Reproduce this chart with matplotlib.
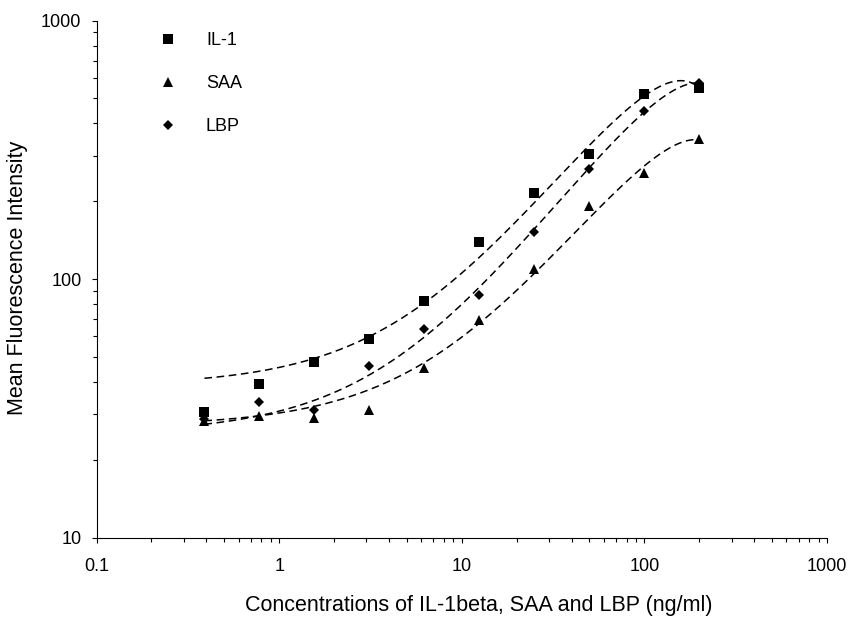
import numpy as np
import matplotlib.pyplot as plt
from matplotlib.lines import Line2D
from matplotlib.transforms import Bbox

plt.rcParams['font.family'] = ['Liberation Sans', 'DejaVu Sans']

# 浓度 (ng/ml)
conc = [0.39, 0.78, 1.56, 3.125, 6.25, 12.5, 25, 50, 100, 200]

# 平均荧光强度
il1 = [30.7, 39.3, 47.9, 58.6, 82.4, 139, 215, 304, 518, 547]
saa = [28.2, 29.4, 29.1, 31.1, 45.1, 69.4, 109, 192, 258, 348]
lbp = [28.8, 33.3, 31.1, 46.1, 63.9, 86.7, 152, 266, 448, 573]

x_ticks = [0.1, 1, 10, 100, 1000]
x_labels = ['0.1', '1', '10', '100', '1000']
y_ticks = [10, 100, 1000]
y_labels = ['10', '100', '1000']

fig = plt.figure(figsize=(8.51, 6.23), dpi=100)
ax = fig.add_axes([96.5 / 851, 1 - 537.5 / 623, 730.5 / 851, 517 / 623])

# 散点
ax.plot(conc, il1, 's', color='black', ms=7, mew=0, label='IL-1')
ax.plot(conc, saa, '^', color='black', ms=7.5, mew=0, label='SAA')
ax.plot(conc, lbp, 'D', color='black', ms=4.8, mew=0, label='LBP')

# 二次多项式趋势线 (线性x)
xs = np.geomspace(conc[0], conc[-1], 400)
for series in [il1, saa, lbp]:
    coef = np.polyfit(conc, series, 2)
    ax.plot(xs, np.polyval(coef, xs), color='black', lw=1.1, linestyle=(0, (5, 3)))

ax.set_xscale('log')
ax.set_yscale('log')
ax.set_xlim(0.1, 1000)
ax.set_ylim(10, 1000)
ax.set_xticks(x_ticks)
ax.set_xticklabels(x_labels)
ax.set_yticks(y_ticks)
ax.set_yticklabels(y_labels)

ax.spines['top'].set_visible(False)
ax.spines['right'].set_visible(False)
for s in ['left', 'bottom']:
    ax.spines[s].set_linewidth(0.8)
ax.tick_params(which='major', direction='out', length=3.8, width=0.8, labelsize=13)
ax.tick_params(which='minor', direction='out', length=3.0, width=0.8)
ax.tick_params(axis='x', which='major', pad=11)
ax.tick_params(axis='y', which='major', pad=7)

ax.set_xlabel('Concentrations of IL-1beta, SAA and LBP (ng/ml)', fontsize=15.5)
ax.set_ylabel('Mean Fluorescence Intensity', fontsize=15.5)
ax.xaxis.label.set_va('center')
ax.yaxis.label.set_va('center')
ax.xaxis.set_label_coords(0.5236, -0.1306)
ax.yaxis.set_label_coords(-0.1075, 0.502)

# 图例 (第四项被裁切)
handles, labels = ax.get_legend_handles_labels()
handles.append(Line2D([], [], color='black', lw=1.1, linestyle=(0, (5, 3))))
labels.append('Poly. (IL-1)')
leg = ax.legend(handles, labels, loc='upper left', bbox_to_anchor=(159 / 851, 1 - 32 / 623),
                bbox_transform=fig.transFigure, frameon=False, fontsize=13,
                handlelength=1.0, handletextpad=1.6, labelspacing=1.45,
                borderpad=0, borderaxespad=0)
clip = Bbox([[0, 623 - 162], [851, 623]])
for t in leg.get_texts()[3:]:
    t.set_clip_box(clip)
    t.set_clip_on(True)
for h in leg.legend_handles[3:]:
    h.set_visible(False)

plt.savefig('out.png', dpi=100)
